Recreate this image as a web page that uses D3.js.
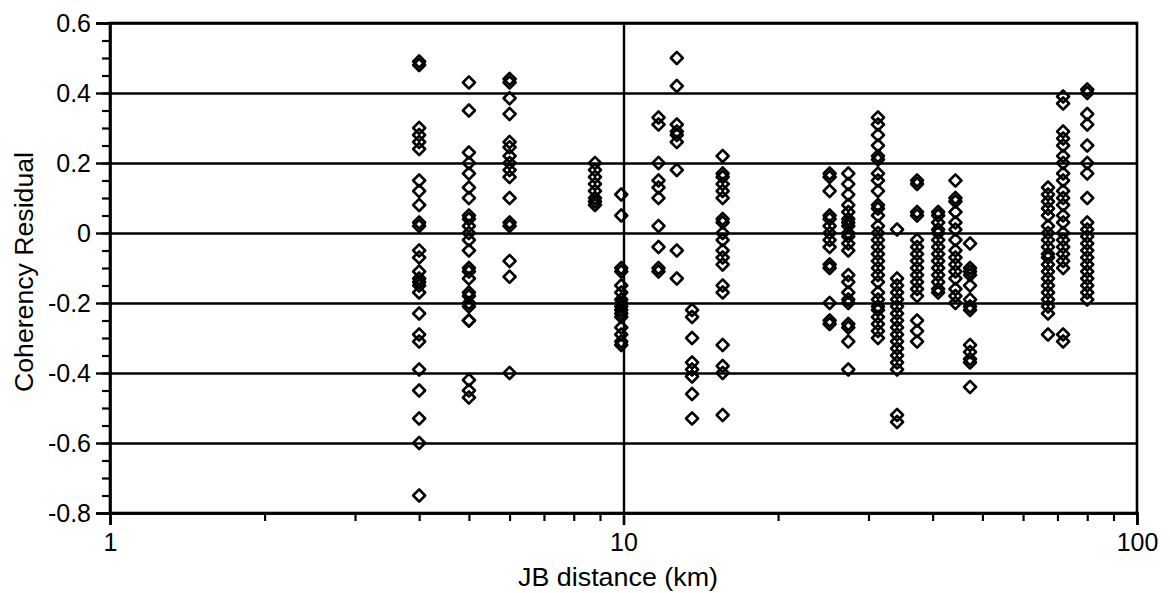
<!DOCTYPE html>
<html lang="en">
<head>
<script src="https://cdnjs.cloudflare.com/ajax/libs/d3/7.8.5/d3.min.js"></script>
<style>
	body{ margin:0; background:#fff; }
	text{ font-family:"Liberation Sans", Arial, sans-serif; fill:#000; }
	.axis path, .axis line{ stroke:#000; }
</style>
</head>
<body>
<svg id="chart" width="1170" height="593"></svg>
<script>
	// JB distance (km) of each station column
	const distances = [4, 5, 6, 8.8, 9.9, 11.7, 12.7, 13.6, 15.6,
		25.2, 27.4, 31.3, 34.1, 37.3, 41, 44.3, 47.3, 67.1, 71.8, 80];

	// coherency residuals
	const residuals = [
		[0.49, 0.48, 0.30, 0.28, 0.26, 0.24, 0.15, 0.12, 0.08, 0.03, 0.02, -0.05, -0.07, -0.11, -0.13, -0.14, -0.15, -0.17, -0.23, -0.29, -0.31, -0.39, -0.45, -0.53, -0.60, -0.75],
		[0.43, 0.35, 0.23, 0.20, 0.17, 0.13, 0.10, 0.05, 0.04, 0.02, 0.00, -0.02, -0.05, -0.10, -0.11, -0.13, -0.17, -0.18, -0.20, -0.21, -0.25, -0.25, -0.42, -0.45, -0.47],
		[0.44, 0.43, 0.385, 0.34, 0.26, 0.245, 0.22, 0.20, 0.18, 0.16, 0.10, 0.03, 0.02, -0.08, -0.125, -0.40],
		[0.20, 0.18, 0.16, 0.14, 0.12, 0.10, 0.09, 0.08],
		[0.11, 0.05, -0.10, -0.11, -0.15, -0.17, -0.19, -0.20, -0.21, -0.22, -0.23, -0.24, -0.27, -0.29, -0.31, -0.32],
		[0.33, 0.31, 0.20, 0.15, 0.13, 0.10, 0.02, -0.04, -0.10, -0.11],
		[0.50, 0.42, 0.31, 0.29, 0.28, 0.26, 0.18, -0.05, -0.13],
		[-0.22, -0.24, -0.30, -0.37, -0.39, -0.41, -0.46, -0.53],
		[0.22, 0.17, 0.16, 0.14, 0.12, 0.10, 0.04, 0.03, 0.00, -0.02, -0.05, -0.07, -0.09, -0.15, -0.17, -0.32, -0.38, -0.40, -0.52],
		[0.17, 0.16, 0.12, 0.05, 0.04, 0.02, 0.00, -0.02, -0.04, -0.09, -0.10, -0.20, -0.25, -0.26],
		[0.17, 0.14, 0.11, 0.08, 0.06, 0.04, 0.03, 0.02, 0.00, -0.01, -0.03, -0.05, -0.12, -0.14, -0.17, -0.19, -0.20, -0.26, -0.27, -0.31, -0.39],
		[0.33, 0.31, 0.28, 0.25, 0.22, 0.21, 0.17, 0.15, 0.12, 0.08, 0.07, 0.05, 0.02, 0.00, -0.02, -0.04, -0.06, -0.08, -0.10, -0.12, -0.14, -0.17, -0.19, -0.21, -0.22, -0.24, -0.26, -0.28, -0.30],
		[0.01, -0.13, -0.15, -0.17, -0.19, -0.21, -0.23, -0.25, -0.27, -0.29, -0.31, -0.33, -0.35, -0.37, -0.39, -0.52, -0.54],
		[0.15, 0.14, 0.06, 0.05, -0.02, -0.04, -0.06, -0.08, -0.10, -0.12, -0.14, -0.16, -0.18, -0.25, -0.28, -0.31],
		[0.06, 0.05, 0.03, 0.01, 0.00, -0.02, -0.04, -0.06, -0.08, -0.10, -0.12, -0.14, -0.16, -0.17],
		[0.15, 0.10, 0.09, 0.06, 0.03, 0.01, -0.02, -0.05, -0.07, -0.09, -0.11, -0.13, -0.16, -0.18, -0.20],
		[-0.03, -0.10, -0.11, -0.12, -0.15, -0.19, -0.21, -0.22, -0.32, -0.34, -0.36, -0.37, -0.44],
		[0.13, 0.11, 0.09, 0.07, 0.05, 0.02, 0.00, -0.02, -0.04, -0.06, -0.07, -0.09, -0.11, -0.13, -0.15, -0.17, -0.19, -0.21, -0.23, -0.29],
		[0.39, 0.37, 0.29, 0.27, 0.25, 0.22, 0.20, 0.17, 0.15, 0.12, 0.10, 0.08, 0.05, 0.03, 0.00, -0.02, -0.04, -0.06, -0.08, -0.10, -0.29, -0.31],
		[0.41, 0.40, 0.34, 0.31, 0.25, 0.20, 0.17, 0.10, 0.03, 0.01, -0.01, -0.03, -0.05, -0.07, -0.09, -0.11, -0.13, -0.15, -0.17, -0.19]
	];

	const yTicks = [0.6, 0.4, 0.2, 0, -0.2, -0.4, -0.6, -0.8];
	const xTicks = [1, 10, 100];
	const xMinor = [2, 3, 4, 5, 6, 7, 8, 9, 20, 30, 40, 50, 60, 70, 80, 90];

	const svg = d3.select('#chart');
	const plotL = 110, plotR = 1137, plotT = 23, plotB = 513;

	const x = d3.scaleLog().domain([1, 100]).range([plotL, plotR]);
	const y = d3.scaleLinear().domain([-0.8, 0.6]).range([plotB, plotT]);

	// horizontal grid
	svg.append('g')
		.attr('transform', `translate(${plotL},0)`)
		.call(d3.axisLeft(y).tickValues(yTicks).tickSize(-(plotR - plotL)).tickFormat(''))
		.call(g => g.select('.domain').remove())
		.selectAll('line').attr('stroke', '#000').attr('stroke-width', 2.4);

	// vertical grid at 10
	svg.append('g')
		.attr('transform', `translate(0,${plotB})`)
		.call(d3.axisBottom(x).tickValues([10]).tickSize(-(plotB - plotT)).tickFormat(''))
		.call(g => g.select('.domain').remove())
		.selectAll('line').attr('stroke', '#000').attr('stroke-width', 2.4);

	// frame
	svg.append('rect')
		.attr('x', plotL).attr('y', plotT)
		.attr('width', plotR - plotL).attr('height', plotB - plotT)
		.attr('fill', 'none').attr('stroke', '#000').attr('stroke-width', 2.6);

	// y axis: minor then major ticks
	svg.append('g').attr('class', 'axis')
		.attr('transform', `translate(${plotL},0)`)
		.call(d3.axisLeft(y).tickValues(d3.range(-16, 13).map(i => i * 0.05)).tickSize(8).tickFormat(''))
		.call(g => g.select('.domain').remove())
		.selectAll('line').attr('stroke-width', 2.2);

	svg.append('g').attr('class', 'axis')
		.attr('transform', `translate(${plotL},0)`)
		.call(d3.axisLeft(y).tickValues(yTicks).tickSize(14).tickPadding(5)
			.tickFormat(d => d === 0 ? '0' : d.toFixed(1)))
		.call(g => g.select('.domain').attr('stroke-width', 2.6))
		.call(g => g.selectAll('line').attr('stroke-width', 2.4))
		.call(g => g.selectAll('text').attr('font-size', 25).attr('font-family', null));

	// x axis: minor then major ticks
	svg.append('g').attr('class', 'axis')
		.attr('transform', `translate(0,${plotB})`)
		.call(d3.axisBottom(x).tickValues(xMinor).tickSize(8).tickFormat(''))
		.call(g => g.select('.domain').remove())
		.selectAll('line').attr('stroke-width', 2.2);

	svg.append('g').attr('class', 'axis')
		.attr('transform', `translate(0,${plotB})`)
		.call(d3.axisBottom(x).tickValues(xTicks).tickSize(12).tickPadding(8).tickFormat(d3.format('d')))
		.call(g => g.select('.domain').attr('stroke-width', 2.6))
		.call(g => g.selectAll('line').attr('stroke-width', 2.6))
		.call(g => g.selectAll('text').attr('font-size', 25).attr('font-family', null));

	// points
	const points = [];
	distances.forEach((d, i) => residuals[i].forEach(v => points.push({d: d, v: v})));

	svg.append('g')
		.selectAll('path')
		.data(points)
		.enter()
		.append('path')
		.attr('d', d3.symbol(d3.symbolSquare, 72))
		.attr('transform', p => `translate(${x(p.d)},${y(p.v)}) rotate(45)`)
		.attr('fill', 'none')
		.attr('stroke', '#000')
		.attr('stroke-width', 2.6)
		.attr('stroke-linejoin', 'round');

	// titles
	svg.append('text')
		.attr('x', 618).attr('y', 586)
		.attr('text-anchor', 'middle')
		.attr('font-size', 25)
		.attr('textLength', 200)
		.attr('lengthAdjust', 'spacingAndGlyphs')
		.text('JB distance (km)');

	svg.append('text')
		.attr('transform', 'translate(33,272) rotate(-90)')
		.attr('text-anchor', 'middle')
		.attr('font-size', 25)
		.attr('textLength', 240)
		.attr('lengthAdjust', 'spacingAndGlyphs')
		.text('Coherency Residual');
</script>
</body>
</html>
